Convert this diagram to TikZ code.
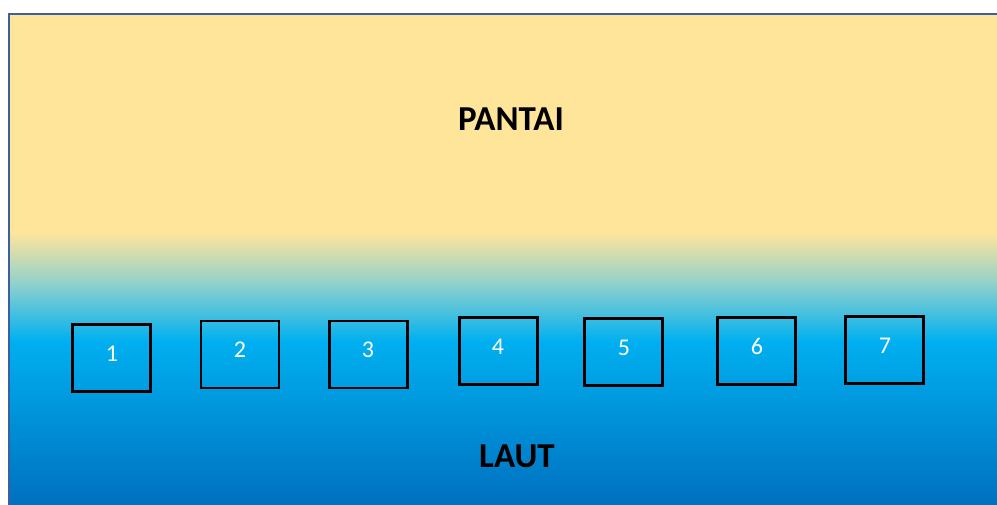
\documentclass[tikz,border=0pt]{standalone}
\usepackage{fontspec}
\setmainfont{Carlito}
\definecolor{sand}{RGB}{255,229,153}
\definecolor{teal1}{RGB}{140,208,205}
\definecolor{sky}{RGB}{0,176,240}
\definecolor{deep}{RGB}{0,108,188}
\definecolor{edge}{RGB}{60,95,160}
\begin{document}
\begin{tikzpicture}[x=1pt,y=-1pt,
  hut/.style={draw=black,line width=2.2pt,minimum width=78pt,minimum height=67pt,inner sep=0pt},
  num/.style={text=white,font=\fontsize{24}{24}\selectfont},
  title/.style={font=\bfseries\fontsize{35}{35}\selectfont,text=black}]
\useasboundingbox (0,0) rectangle (997,504);
\fill[white] (-5,-5) rectangle (1005,515);
\fill[sand] (9,14) rectangle (1005,233);
\shade[top color=sand,bottom color=teal1] (9,232) rectangle (1005,286);
\shade[top color=teal1,bottom color=sky] (9,285) rectangle (1005,341);
\shade[top color=sky,bottom color=deep] (9,340) rectangle (1005,515);
\draw[edge,line width=1.8pt] (9,515) -- (9,14) -- (1005,14);
\node[hut] (b1) at (111.5,358) {};
\node[hut] (b2) at (240,354.5) {};
\node[hut] (b3) at (368.5,354.5) {};
\node[hut] (b4) at (498.5,351) {};
\node[hut] (b5) at (623.5,352) {};
\node[hut] (b6) at (756.5,351) {};
\node[hut] (b7) at (884.5,350) {};
\node[num] (n1) at (112,354) {1};
\node[num] (n2) at (240,350) {2};
\node[num] (n3) at (368,350) {3};
\node[num] (n4) at (498,347) {4};
\node[num] (n5) at (624,348) {5};
\node[num] (n6) at (757,346) {6};
\node[num] (n7) at (885,346) {7};
\node[title] (pantai) at (511,119) {PANTAI};
\node[title] (laut) at (517,456) {LAUT};
\end{tikzpicture}
\end{document}
